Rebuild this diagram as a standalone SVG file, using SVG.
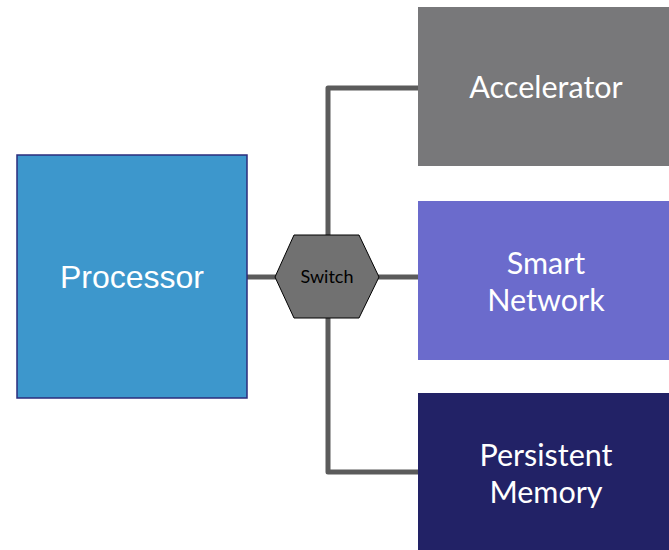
<svg xmlns="http://www.w3.org/2000/svg" width="669" height="550" viewBox="0 0 669 550">
<style>
.conn{fill:none;stroke:#5b5b5b;stroke-width:5;stroke-linejoin:round;stroke-linecap:butt}
.lbl{font-family:Lato,"Open Sans",sans-serif;font-size:30.5px;fill:#ffffff;text-anchor:middle}
</style>
<rect width="669" height="550" fill="#ffffff"/>
<g id="connectors">
<path class="conn" d="M247 277H276"/>
<path class="conn" d="M378 277H418"/>
<path class="conn" d="M418 88H328V472H418"/>
</g>
<g id="processor">
<rect x="17" y="155" width="230" height="243" fill="#3d97cc" stroke="#2b2c7c" stroke-width="1.5"/>
<text x="132" y="288" font-family="Liberation Sans,Arial,sans-serif" font-size="32" fill="#ffffff" text-anchor="middle">Processor</text>
</g>
<g id="accelerator">
<rect x="418" y="7" width="251" height="159" fill="#78787a"/>
<text class="lbl" x="546" y="98">Accelerator</text>
</g>
<g id="smart-network">
<rect x="418" y="201" width="251" height="159" fill="#6b6bcc"/>
<text class="lbl" x="546" y="274">Smart</text>
<text class="lbl" x="546" y="311">Network</text>
</g>
<g id="persistent-memory">
<rect x="418" y="393" width="251" height="157" fill="#222266"/>
<text class="lbl" x="546" y="466">Persistent</text>
<text class="lbl" x="546" y="503">Memory</text>
</g>
<g id="switch">
<polygon points="275,277 294,235 359,235 379,277 359,318 294,318" fill="#717171" stroke="#000000" stroke-width="1"/>
<text x="327" y="283" font-family="Lato,'Open Sans',sans-serif" font-size="18" fill="#000000" text-anchor="middle">Switch</text>
</g>
</svg>
